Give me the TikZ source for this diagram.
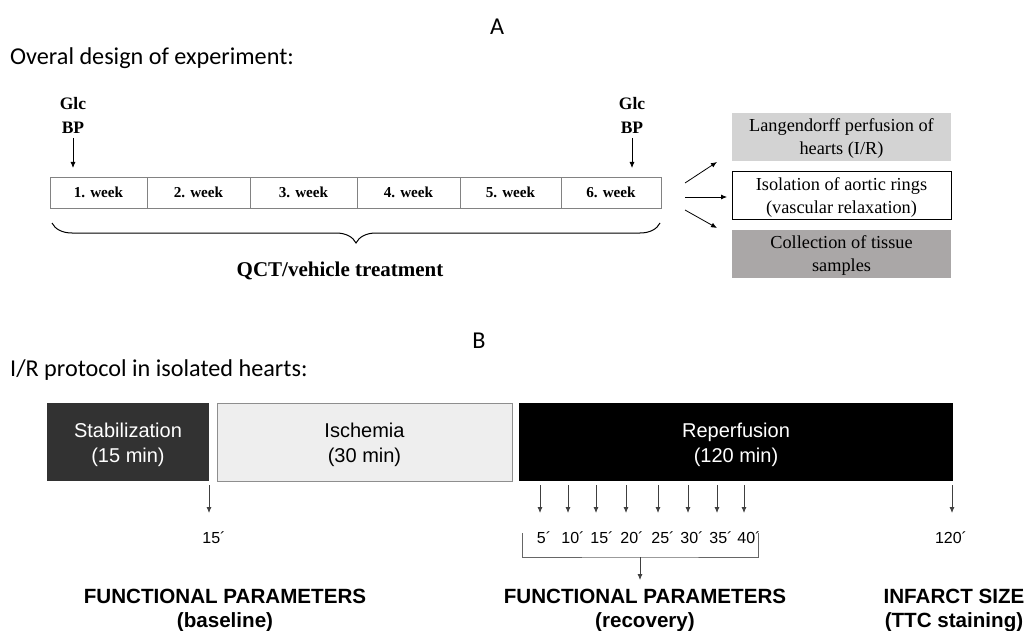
\documentclass[tikz,border=0pt]{standalone}
\usepackage{fontspec}
\setmainfont{Liberation Serif}
\newfontfamily\arialf{Liberation Sans}
\newfontfamily\calf{Carlito}
\usetikzlibrary{arrows.meta,decorations.pathreplacing}
\definecolor{lightbox}{RGB}{211,211,211}
\definecolor{darkbox}{RGB}{170,167,167}
\definecolor{stabcol}{RGB}{50,50,50}
\definecolor{ischcol}{RGB}{238,238,238}
\definecolor{edgegray}{RGB}{130,130,130}
\begin{document}
\begin{tikzpicture}[x=1pt,y=-1pt,
  heading/.style={font=\calf\fontsize{24.2}{29}\selectfont, inner sep=0pt},
  weekbox/.style={draw=edgegray, line width=0.9pt, minimum height=31pt, inner sep=0pt,
     font=\bfseries\fontsize{15.2}{18}\selectfont},
  glclabel/.style={align=center, inner sep=0pt, font=\bfseries\fontsize{17.5}{24}\selectfont},
  outbox/.style={minimum width=219pt, minimum height=48pt, inner sep=0pt},
  outtext/.style={align=center, inner sep=0pt, font=\fontsize{18.3}{23}\selectfont},
  phase/.style={minimum height=78pt, inner sep=0pt},
  phasetext/.style={align=center, inner sep=0pt, font=\arialf\fontsize{20}{25}\selectfont},
  arr/.style={-{Latex[length=6pt,width=5pt]}, line width=0.8pt},
  tlabel/.style={font=\arialf\fontsize{16}{19}\selectfont, inner sep=0pt},
  result/.style={align=center, inner sep=0pt, font=\arialf\bfseries\fontsize{20.6}{24}\selectfont}]
\useasboundingbox (0,0) rectangle (1025,631);
\fill[white] (0,0) rectangle (1025,631);

% ---------- Panel A ----------
\node[heading, anchor=base] (lblA) at (497,35) {A};
\node[heading, anchor=base west] (titA) at (10,65) {Overal design of experiment:};

\node[weekbox, minimum width=97pt]  (w1) at (98.5,192.5) {1. week};
\node[weekbox, minimum width=103pt] (w2) at (198.5,192.5) {2. week};
\node[weekbox, minimum width=107pt] (w3) at (303.5,192.5) {3. week};
\node[weekbox, minimum width=103pt] (w4) at (408.5,192.5) {4. week};
\node[weekbox, minimum width=101pt] (w5) at (510.5,192.5) {5. week};
\node[weekbox, minimum width=100pt] (w6) at (611,192.5) {6. week};

\node[glclabel] (g1) at (73,115) {Glc\\BP};
\node[glclabel] (g2) at (632,115) {Glc\\BP};
\coordinate (g1e) at (73,168);
\coordinate (g2e) at (632,168);
\draw[arr] (73,138) -- (g1e);
\draw[arr] (632,138) -- (g2e);

\coordinate (brL) at (52,223);
\coordinate (brR) at (660,223);
\draw[line width=1pt, decorate, decoration={brace, amplitude=20pt, mirror}] (brL) -- (brR);
\node[inner sep=0pt, font=\bfseries\fontsize{21}{25}\selectfont] (qct) at (340,271) {QCT/vehicle treatment};

\node[outbox, fill=lightbox] (lang) at (841.5,137.5) {};
\node[outtext] (langt) at (841.5,139) {Langendorff perfusion of\\hearts (I/R)};
\node[outbox, fill=white, draw=black, line width=1pt] (iso) at (841.5,196) {};
\node[outtext] (isot) at (841.5,197.5) {Isolation of aortic rings\\(vascular relaxation)};
\node[outbox, fill=darkbox] (coll) at (841.5,254) {};
\node[outtext] (collt) at (841.5,255.5) {Collection of tissue\\samples};

\coordinate (s1) at (685,183);
\coordinate (s2) at (685,197);
\coordinate (s3) at (685,210);
\coordinate (e1) at (717,162);
\coordinate (e2) at (727,197);
\coordinate (e3) at (717,228);
\draw[arr] (s1) -- (e1);
\draw[arr] (s2) -- (e2);
\draw[arr] (s3) -- (e3);

% ---------- Panel B ----------
\node[heading, anchor=base] (lblB) at (479,348) {B};
\node[heading, anchor=base west] (titB) at (10,376) {I/R protocol in isolated hearts:};

\node[phase, minimum width=162pt, fill=stabcol] (stab) at (128,442) {};
\node[phasetext, text=white] (stabt) at (128,445) {Stabilization\\(15 min)};
\node[phase, minimum width=295pt, fill=ischcol, draw=edgegray!90, line width=1pt] (isch) at (364.5,442) {};
\node[phasetext] (ischt) at (364.5,445) {Ischemia\\(30 min)};
\node[phase, minimum width=434pt, fill=black] (rep) at (736,442) {};
\node[phasetext, text=white] (rept) at (736,445) {Reperfusion\\(120 min)};

% time arrows
\foreach \x/\name in {209/a0,540/a1,568/a2,596/a3,626/a4,658/a5,688/a6,717/a7,744/a8,952/a9}{
  \coordinate (\name s) at (\x,485);
  \coordinate (\name e) at (\x,513);
  \draw[arr, black!75] (\name s) -- (\name e);
}
\node[tlabel] (t0) at (214,538) {15´};
\node[tlabel] (t1) at (544,538) {5´};
\node[tlabel] (t2) at (573,538) {10´};
\node[tlabel] (t3) at (602,538) {15´};
\node[tlabel] (t4) at (632,538) {20´};
\node[tlabel] (t5) at (663,538) {25´};
\node[tlabel] (t6) at (692,538) {30´};
\node[tlabel] (t7) at (721,538) {35´};
\node[tlabel] (t8) at (749,538) {40´};
\node[tlabel] (t9) at (951,538) {120´};

\coordinate (bkL) at (522,533);
\coordinate (bkR) at (758,533);
\coordinate (bkM) at (640,557);
\coordinate (bkE) at (640,580);
\draw[line width=0.8pt, black!60] (bkL) |- (bkM) -| (bkR);
\draw[arr, black!75] (bkM) -- (bkE);

\node[result] (fpb) at (225,610) {FUNCTIONAL PARAMETERS\\(baseline)};
\node[result] (fpr) at (645,610) {FUNCTIONAL PARAMETERS\\(recovery)};
\node[result] (inf) at (954,610) {INFARCT SIZE\\(TTC staining)};
\end{tikzpicture}
\end{document}
